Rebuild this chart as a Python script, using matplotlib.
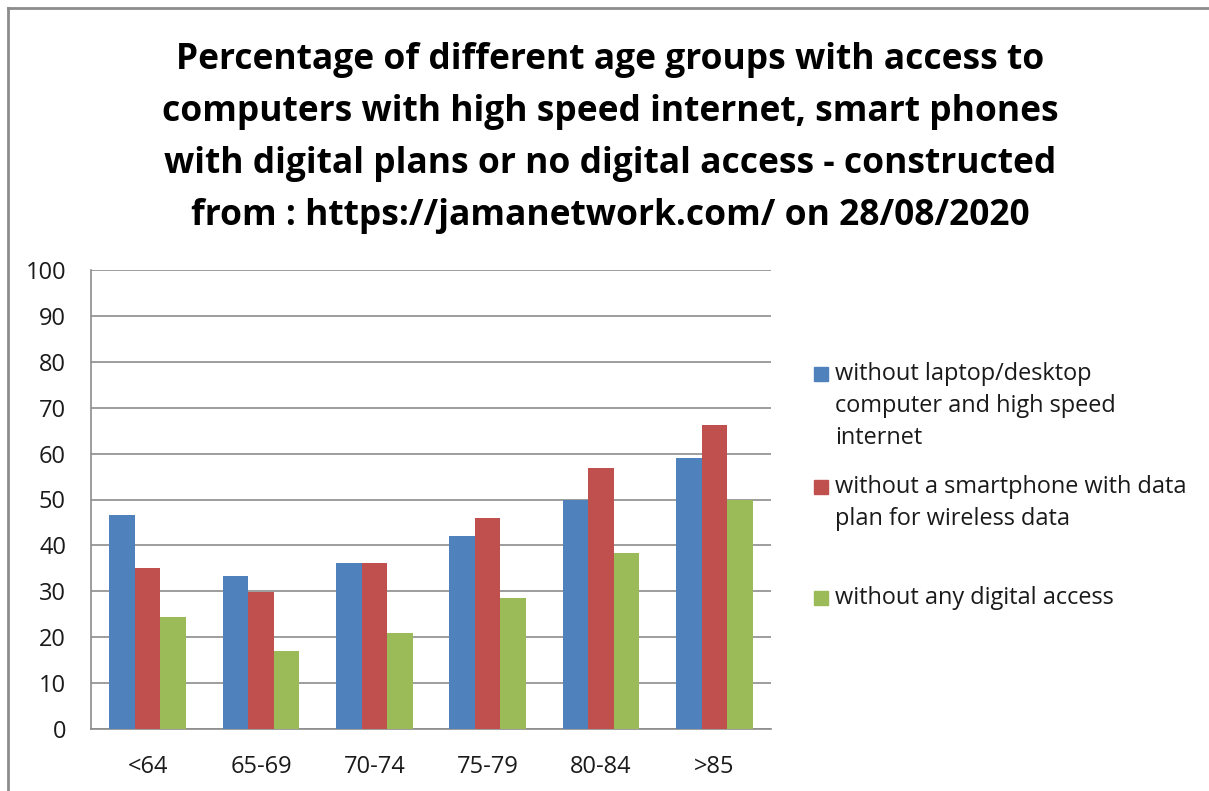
import numpy as np
import matplotlib.pyplot as plt
from matplotlib.patches import Rectangle
from matplotlib.lines import Line2D

plt.rcParams['font.family'] = ['Open Sans', 'DejaVu Sans']

groups = ['<64', '65-69', '70-74', '75-79', '80-84', '>85']
no_computer = [46.7, 33.3, 36.1, 42.1, 49.9, 59.1]
no_smartphone = [35.0, 29.8, 36.1, 46.0, 56.8, 66.3]
no_access = [24.3, 17.1, 21.0, 28.5, 38.3, 49.9]

labels = ['without laptop/desktop\ncomputer and high speed\ninternet',
          'without a smartphone with data\nplan for wireless data',
          'without any digital access']
colors = ['#4F81BD', '#C0504D', '#9BBB59']

W, H = 1209, 791
fig = plt.figure(figsize=(W / 100, H / 100), dpi=100)
ax = fig.add_axes([91 / W, 1 - 729 / H, (771 - 91) / W, (729 - 270) / H])

x = np.arange(len(groups))
bw = 0.225
for i, (vals, c) in enumerate(zip([no_computer, no_smartphone, no_access], colors)):
    ax.bar(x + (i - 1) * bw, vals, bw, color=c, zorder=3)

ax.set_xlim(-0.5, len(groups) - 0.5)
ax.set_ylim(0, 100)
ax.set_yticks(range(0, 101, 10))
ax.set_xticks(x)
ax.set_xticklabels(groups)
ax.yaxis.grid(True, color='#8c8c8c', linewidth=1.2, zorder=0)
ax.tick_params(axis='both', length=0, labelsize=17, colors='#1a1a1a')
ax.tick_params(axis='y', pad=18)
ax.tick_params(axis='x', pad=19)
for side in ['top', 'right']:
    ax.spines[side].set_visible(False)
for side in ['left', 'bottom']:
    ax.spines[side].set_color('#8c8c8c')
    ax.spines[side].set_linewidth(1.2)

fig.text(0.505, 1 - 138 / H,
         'Percentage of different age groups with access to\n'
         'computers with high speed internet, smart phones\n'
         'with digital plans or no digital access - constructed\n'
         'from : https://jamanetwork.com/ on 28/08/2020',
         ha='center', va='center', fontsize=25.5, fontweight='bold', linespacing=1.6)

# legend drawn by hand so the swatch sits on the first line of each entry
first_line = [374, 487, 598]
for lab, c, y0 in zip(labels, colors, first_line):
    fig.add_artist(Rectangle((814 / W, 1 - (y0 + 7) / H), 14 / W, 14 / H,
                             transform=fig.transFigure, color=c))
    for k, line in enumerate(lab.split('\n')):
        fig.text(835 / W, 1 - (y0 + 32 * k) / H, line, ha='left', va='center',
                 fontsize=16.9, color='#1a1a1a')

# chart border (top and left edges)
fig.add_artist(Line2D([8 / W, 8 / W], [0, 1 - 8 / H], transform=fig.transFigure,
                      color='#8c8c8c', linewidth=2))
fig.add_artist(Line2D([8 / W, 1], [1 - 8 / H, 1 - 8 / H], transform=fig.transFigure,
                      color='#8c8c8c', linewidth=2))

fig.savefig('out.png', dpi=100)
